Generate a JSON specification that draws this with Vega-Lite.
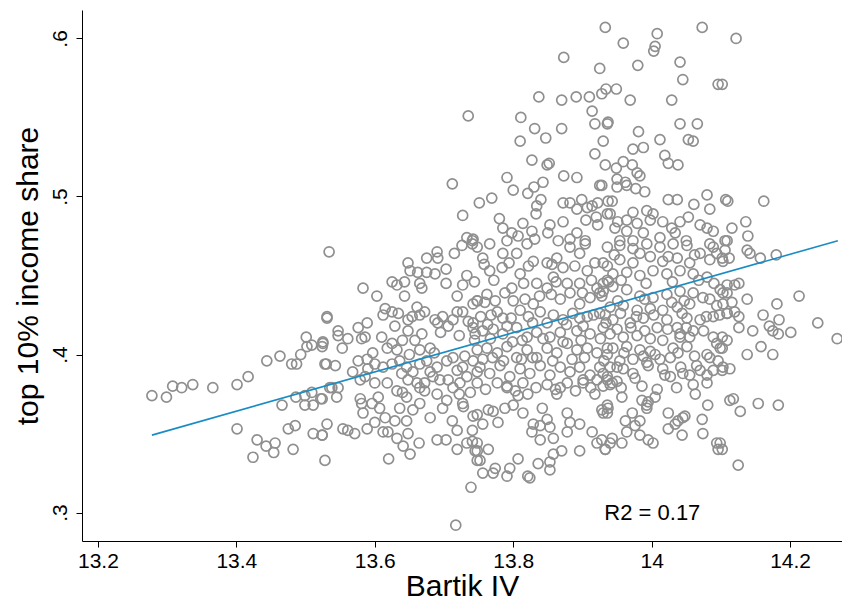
{
"$schema": "https://vega.github.io/schema/vega-lite/v6.json",
"width": 760, "height": 531,
"autosize": {"type": "none"},
"padding": {"left": 82, "top": 10, "right": 0, "bottom": 59},
"background": "white",
"config": {"view": {"stroke": null}, "font": "Liberation Sans",
 "axis": {"grid": false, "domainColor": "black", "tickColor": "black", "labelColor": "black", "titleColor": "black", "labelFont": "Liberation Sans", "titleFont": "Liberation Sans", "titleFontWeight": "normal", "labelFontSize": 21, "titleFontSize": 30, "tickSize": 6, "domainWidth": 1, "tickWidth": 1}},
"layer": [
{"data": {"values": [
{"iv":13.278,"top10":0.374},{"iv":13.299,"top10":0.373},{"iv":13.308,"top10":0.380},{"iv":13.321,"top10":0.379},{"iv":13.337,"top10":0.381},{"iv":13.366,"top10":0.379},{"iv":13.401,"top10":0.381},{"iv":13.417,"top10":0.386},{"iv":13.444,"top10":0.396},{"iv":13.463,"top10":0.399},{"iv":13.480,"top10":0.394},{"iv":13.487,"top10":0.394},{"iv":13.493,"top10":0.400},{"iv":13.501,"top10":0.411},{"iv":13.502,"top10":0.405},{"iv":13.509,"top10":0.406},{"iv":13.524,"top10":0.405},{"iv":13.525,"top10":0.408},{"iv":13.530,"top10":0.394},{"iv":13.531,"top10":0.424},{"iv":13.534,"top10":0.465},{"iv":13.466,"top10":0.368},{"iv":13.486,"top10":0.373},{"iv":13.499,"top10":0.374},{"iv":13.499,"top10":0.368},{"iv":13.509,"top10":0.376},{"iv":13.511,"top10":0.368},{"iv":13.522,"top10":0.372},{"iv":13.535,"top10":0.379},{"iv":13.401,"top10":0.353},{"iv":13.475,"top10":0.353},{"iv":13.485,"top10":0.355},{"iv":13.511,"top10":0.350},{"iv":13.524,"top10":0.349},{"iv":13.531,"top10":0.356},{"iv":13.430,"top10":0.346},{"iv":13.443,"top10":0.342},{"iv":13.456,"top10":0.344},{"iv":13.454,"top10":0.338},{"iv":13.424,"top10":0.335},{"iv":13.482,"top10":0.340},{"iv":13.528,"top10":0.333},
{"iv":13.583,"top10":0.442},{"iv":13.603,"top10":0.437},{"iv":13.643,"top10":0.437},{"iv":13.625,"top10":0.446},{"iv":13.632,"top10":0.444},{"iv":13.643,"top10":0.446},{"iv":13.648,"top10":0.458},{"iv":13.651,"top10":0.453},{"iv":13.662,"top10":0.452},{"iv":13.675,"top10":0.461},{"iv":13.675,"top10":0.452},{"iv":13.687,"top10":0.451},{"iv":13.690,"top10":0.465},{"iv":13.691,"top10":0.461},{"iv":13.703,"top10":0.454},{"iv":13.703,"top10":0.445},{"iv":13.715,"top10":0.464},{"iv":13.726,"top10":0.469},{"iv":13.741,"top10":0.470},{"iv":13.733,"top10":0.450},{"iv":13.727,"top10":0.444},{"iv":13.719,"top10":0.437},{"iv":13.665,"top10":0.445},{"iv":13.668,"top10":0.442},
{"iv":13.531,"top10":0.423},{"iv":13.525,"top10":0.407},{"iv":13.547,"top10":0.415},{"iv":13.547,"top10":0.412},{"iv":13.561,"top10":0.410},{"iv":13.553,"top10":0.404},{"iv":13.576,"top10":0.417},{"iv":13.581,"top10":0.410},{"iv":13.586,"top10":0.411},{"iv":13.589,"top10":0.420},{"iv":13.610,"top10":0.411},{"iv":13.615,"top10":0.429},{"iv":13.612,"top10":0.425},{"iv":13.625,"top10":0.427},{"iv":13.634,"top10":0.426},{"iv":13.629,"top10":0.418},{"iv":13.640,"top10":0.409},{"iv":13.648,"top10":0.422},{"iv":13.648,"top10":0.415},{"iv":13.661,"top10":0.430},{"iv":13.665,"top10":0.425},{"iv":13.672,"top10":0.427},{"iv":13.654,"top10":0.424},{"iv":13.618,"top10":0.404},{"iv":13.625,"top10":0.407},{"iv":13.632,"top10":0.403},{"iv":13.658,"top10":0.409},{"iv":13.665,"top10":0.403},{"iv":13.680,"top10":0.404},{"iv":13.687,"top10":0.422},{"iv":13.691,"top10":0.420},{"iv":13.698,"top10":0.424},{"iv":13.706,"top10":0.418},{"iv":13.713,"top10":0.422},{"iv":13.719,"top10":0.427},{"iv":13.727,"top10":0.427},{"iv":13.735,"top10":0.421},{"iv":13.742,"top10":0.417},{"iv":13.742,"top10":0.432},{"iv":13.748,"top10":0.434},
{"iv":13.528,"top10":0.394},{"iv":13.543,"top10":0.393},{"iv":13.568,"top10":0.389},{"iv":13.576,"top10":0.396},{"iv":13.589,"top10":0.397},{"iv":13.597,"top10":0.401},{"iv":13.600,"top10":0.394},{"iv":13.590,"top10":0.391},{"iv":13.579,"top10":0.384},{"iv":13.586,"top10":0.386},{"iv":13.600,"top10":0.382},{"iv":13.612,"top10":0.392},{"iv":13.625,"top10":0.394},{"iv":13.636,"top10":0.396},{"iv":13.639,"top10":0.388},{"iv":13.646,"top10":0.392},{"iv":13.655,"top10":0.389},{"iv":13.648,"top10":0.384},{"iv":13.665,"top10":0.394},{"iv":13.675,"top10":0.396},{"iv":13.680,"top10":0.389},{"iv":13.690,"top10":0.392},{"iv":13.694,"top10":0.384},{"iv":13.704,"top10":0.396},{"iv":13.713,"top10":0.398},{"iv":13.719,"top10":0.390},{"iv":13.727,"top10":0.392},{"iv":13.733,"top10":0.386},{"iv":13.742,"top10":0.396},{"iv":13.748,"top10":0.389},{"iv":13.706,"top10":0.384},{"iv":13.723,"top10":0.382},{"iv":13.684,"top10":0.386},{"iv":13.672,"top10":0.382},{"iv":13.661,"top10":0.382},
{"iv":13.538,"top10":0.379},{"iv":13.547,"top10":0.379},{"iv":13.545,"top10":0.373},{"iv":13.524,"top10":0.372},{"iv":13.524,"top10":0.349},{"iv":13.554,"top10":0.353},{"iv":13.561,"top10":0.352},{"iv":13.571,"top10":0.350},{"iv":13.579,"top10":0.372},{"iv":13.581,"top10":0.369},{"iv":13.583,"top10":0.363},{"iv":13.589,"top10":0.353},{"iv":13.600,"top10":0.357},{"iv":13.596,"top10":0.369},{"iv":13.605,"top10":0.373},{"iv":13.607,"top10":0.366},{"iv":13.615,"top10":0.360},{"iv":13.612,"top10":0.351},{"iv":13.619,"top10":0.351},{"iv":13.632,"top10":0.347},{"iv":13.641,"top10":0.342},{"iv":13.648,"top10":0.350},{"iv":13.651,"top10":0.337},{"iv":13.620,"top10":0.334},{"iv":13.664,"top10":0.344},{"iv":13.690,"top10":0.346},{"iv":13.703,"top10":0.346},{"iv":13.719,"top10":0.340},{"iv":13.733,"top10":0.344},{"iv":13.741,"top10":0.345},{"iv":13.745,"top10":0.339},{"iv":13.748,"top10":0.333},{"iv":13.739,"top10":0.316},{"iv":13.717,"top10":0.292},{"iv":13.719,"top10":0.352},{"iv":13.712,"top10":0.358},{"iv":13.741,"top10":0.352},{"iv":13.742,"top10":0.361},{"iv":13.727,"top10":0.369},{"iv":13.618,"top10":0.382},{"iv":13.632,"top10":0.377},{"iv":13.646,"top10":0.373},{"iv":13.636,"top10":0.366},{"iv":13.655,"top10":0.365},{"iv":13.665,"top10":0.369},{"iv":13.680,"top10":0.360},{"iv":13.690,"top10":0.375},{"iv":13.704,"top10":0.371},{"iv":13.713,"top10":0.379},{"iv":13.665,"top10":0.379},{"iv":13.629,"top10":0.358},{"iv":13.646,"top10":0.358},
{"iv":13.735,"top10":0.551},{"iv":13.712,"top10":0.508},{"iv":13.751,"top10":0.496},{"iv":13.727,"top10":0.488},{"iv":13.733,"top10":0.474},{"iv":13.741,"top10":0.472},
{"iv":13.933,"top10":0.607},{"iv":13.873,"top10":0.588},{"iv":13.925,"top10":0.581},{"iv":13.837,"top10":0.563},{"iv":13.870,"top10":0.561},{"iv":13.891,"top10":0.563},{"iv":13.910,"top10":0.563},{"iv":13.928,"top10":0.565},{"iv":13.934,"top10":0.568},{"iv":13.914,"top10":0.554},{"iv":13.918,"top10":0.546},{"iv":13.936,"top10":0.546},{"iv":13.811,"top10":0.550},{"iv":13.831,"top10":0.543},{"iv":13.847,"top10":0.537},{"iv":13.870,"top10":0.543},{"iv":13.810,"top10":0.535},{"iv":13.930,"top10":0.535},{"iv":13.918,"top10":0.527},{"iv":13.933,"top10":0.520},{"iv":13.827,"top10":0.523},{"iv":13.849,"top10":0.520},{"iv":13.852,"top10":0.521},{"iv":13.791,"top10":0.512},{"iv":13.800,"top10":0.504},{"iv":13.873,"top10":0.513},{"iv":13.892,"top10":0.512},{"iv":13.925,"top10":0.507},{"iv":13.830,"top10":0.506},{"iv":13.843,"top10":0.509},{"iv":13.821,"top10":0.502},{"iv":13.840,"top10":0.498},{"iv":13.834,"top10":0.494},{"iv":13.833,"top10":0.489},{"iv":13.769,"top10":0.499},{"iv":13.872,"top10":0.496},{"iv":13.882,"top10":0.496},{"iv":13.899,"top10":0.498},{"iv":13.892,"top10":0.492},{"iv":13.907,"top10":0.493},{"iv":13.914,"top10":0.494},{"iv":13.922,"top10":0.496},{"iv":13.937,"top10":0.497},{"iv":13.905,"top10":0.485},{"iv":13.920,"top10":0.487},{"iv":13.922,"top10":0.482},{"iv":13.936,"top10":0.489},{"iv":13.780,"top10":0.486},{"iv":13.785,"top10":0.480},{"iv":13.798,"top10":0.477},{"iv":13.814,"top10":0.483},{"iv":13.807,"top10":0.475},{"iv":13.827,"top10":0.478},{"iv":13.831,"top10":0.473},{"iv":13.853,"top10":0.482},{"iv":13.850,"top10":0.477},{"iv":13.872,"top10":0.484},{"iv":13.865,"top10":0.472},{"iv":13.882,"top10":0.473},{"iv":13.892,"top10":0.477},{"iv":13.904,"top10":0.472},{"iv":13.742,"top10":0.473},{"iv":13.766,"top10":0.470},{"iv":13.791,"top10":0.472},{"iv":13.820,"top10":0.470},
{"iv":13.748,"top10":0.468},{"iv":13.756,"top10":0.461},{"iv":13.766,"top10":0.453},{"iv":13.785,"top10":0.464},{"iv":13.784,"top10":0.455},{"iv":13.805,"top10":0.464},{"iv":13.810,"top10":0.451},{"iv":13.798,"top10":0.442},{"iv":13.817,"top10":0.435},{"iv":13.834,"top10":0.445},{"iv":13.829,"top10":0.459},{"iv":13.849,"top10":0.458},{"iv":13.863,"top10":0.461},{"iv":13.872,"top10":0.455},{"iv":13.882,"top10":0.468},{"iv":13.896,"top10":0.464},{"iv":13.904,"top10":0.470},{"iv":13.907,"top10":0.453},{"iv":13.930,"top10":0.458},{"iv":13.936,"top10":0.447},{"iv":13.921,"top10":0.442},{"iv":13.896,"top10":0.445},{"iv":13.878,"top10":0.445},{"iv":13.858,"top10":0.449},{"iv":13.849,"top10":0.442},{"iv":13.748,"top10":0.434},{"iv":13.759,"top10":0.433},{"iv":13.742,"top10":0.420},{"iv":13.774,"top10":0.434},{"iv":13.777,"top10":0.427},{"iv":13.785,"top10":0.423},{"iv":13.800,"top10":0.434},{"iv":13.810,"top10":0.428},{"iv":13.829,"top10":0.432},{"iv":13.839,"top10":0.427},{"iv":13.849,"top10":0.420},{"iv":13.868,"top10":0.435},{"iv":13.882,"top10":0.439},{"iv":13.896,"top10":0.432},{"iv":13.911,"top10":0.436},{"iv":13.925,"top10":0.439},{"iv":13.886,"top10":0.426},{"iv":13.872,"top10":0.422},{"iv":13.907,"top10":0.424},{"iv":13.925,"top10":0.426},{"iv":13.756,"top10":0.415},{"iv":13.771,"top10":0.416},{"iv":13.785,"top10":0.413},{"iv":13.805,"top10":0.417},{"iv":13.820,"top10":0.411},{"iv":13.834,"top10":0.414},{"iv":13.853,"top10":0.411},{"iv":13.868,"top10":0.414},{"iv":13.892,"top10":0.415},{"iv":13.911,"top10":0.413},{"iv":13.930,"top10":0.417},{"iv":13.748,"top10":0.403},{"iv":13.762,"top10":0.404},{"iv":13.777,"top10":0.401},{"iv":13.791,"top10":0.405},{"iv":13.805,"top10":0.398},{"iv":13.820,"top10":0.403},{"iv":13.834,"top10":0.398},{"iv":13.849,"top10":0.404},{"iv":13.863,"top10":0.401},{"iv":13.878,"top10":0.407},{"iv":13.892,"top10":0.403},{"iv":13.907,"top10":0.404},{"iv":13.921,"top10":0.401},{"iv":13.936,"top10":0.404},{"iv":13.752,"top10":0.392},{"iv":13.766,"top10":0.388},{"iv":13.781,"top10":0.393},{"iv":13.795,"top10":0.386},{"iv":13.810,"top10":0.391},{"iv":13.824,"top10":0.388},{"iv":13.839,"top10":0.393},{"iv":13.853,"top10":0.387},{"iv":13.868,"top10":0.392},{"iv":13.882,"top10":0.389},{"iv":13.896,"top10":0.392},{"iv":13.911,"top10":0.387},{"iv":13.925,"top10":0.392},{"iv":13.748,"top10":0.382},{"iv":13.777,"top10":0.382},{"iv":13.791,"top10":0.379},{"iv":13.814,"top10":0.382},{"iv":13.849,"top10":0.381},{"iv":13.878,"top10":0.382},{"iv":13.901,"top10":0.384},{"iv":13.921,"top10":0.384},{"iv":13.936,"top10":0.386},
{"iv":13.918,"top10":0.375},{"iv":13.878,"top10":0.363},{"iv":13.896,"top10":0.356},{"iv":13.882,"top10":0.357},{"iv":13.878,"top10":0.351},{"iv":13.914,"top10":0.351},{"iv":13.921,"top10":0.344},{"iv":13.933,"top10":0.340},{"iv":13.896,"top10":0.339},{"iv":13.870,"top10":0.339},{"iv":13.858,"top10":0.347},{"iv":13.853,"top10":0.354},{"iv":13.839,"top10":0.346},{"iv":13.839,"top10":0.355},{"iv":13.829,"top10":0.356},{"iv":13.827,"top10":0.351},{"iv":13.858,"top10":0.337},{"iv":13.853,"top10":0.332},{"iv":13.853,"top10":0.327},{"iv":13.836,"top10":0.331},{"iv":13.807,"top10":0.334},{"iv":13.795,"top10":0.328},{"iv":13.791,"top10":0.323},{"iv":13.774,"top10":0.328},{"iv":13.771,"top10":0.325},{"iv":13.756,"top10":0.325},{"iv":13.752,"top10":0.333},{"iv":13.764,"top10":0.340},{"iv":13.748,"top10":0.339},{"iv":13.748,"top10":0.344},{"iv":13.821,"top10":0.323},{"iv":13.824,"top10":0.322},{"iv":13.778,"top10":0.357},{"iv":13.756,"top10":0.356},{"iv":13.748,"top10":0.362},{"iv":13.764,"top10":0.365},{"iv":13.771,"top10":0.364},{"iv":13.788,"top10":0.366},{"iv":13.800,"top10":0.368},{"iv":13.814,"top10":0.363},{"iv":13.821,"top10":0.375},{"iv":13.807,"top10":0.374},{"iv":13.791,"top10":0.380},{"iv":13.842,"top10":0.366},{"iv":13.849,"top10":0.359},{"iv":13.863,"top10":0.375},{"iv":13.868,"top10":0.379},{"iv":13.901,"top10":0.382},{"iv":13.928,"top10":0.365},{"iv":13.936,"top10":0.363},
{"iv":14.008,"top10":0.603},{"iv":14.073,"top10":0.607},{"iv":13.959,"top10":0.597},{"iv":14.005,"top10":0.595},{"iv":14.003,"top10":0.592},{"iv":13.980,"top10":0.583},{"iv":14.041,"top10":0.585},{"iv":14.045,"top10":0.574},{"iv":14.096,"top10":0.571},{"iv":13.949,"top10":0.568},{"iv":13.969,"top10":0.561},{"iv":14.029,"top10":0.561},{"iv":13.937,"top10":0.547},{"iv":13.981,"top10":0.541},{"iv":14.041,"top10":0.546},{"iv":14.066,"top10":0.546},{"iv":14.012,"top10":0.536},{"iv":14.053,"top10":0.536},{"iv":14.060,"top10":0.535},{"iv":13.973,"top10":0.530},{"iv":13.988,"top10":0.531},{"iv":14.019,"top10":0.526},{"iv":14.024,"top10":0.521},{"iv":14.038,"top10":0.520},{"iv":13.949,"top10":0.518},{"iv":13.959,"top10":0.522},{"iv":13.972,"top10":0.520},{"iv":13.979,"top10":0.515},{"iv":13.983,"top10":0.513},{"iv":13.950,"top10":0.511},{"iv":13.962,"top10":0.509},{"iv":13.950,"top10":0.506},{"iv":13.964,"top10":0.507},{"iv":13.977,"top10":0.505},{"iv":13.990,"top10":0.503},{"iv":13.928,"top10":0.507},{"iv":13.943,"top10":0.497},{"iv":14.024,"top10":0.498},{"iv":14.037,"top10":0.498},{"iv":14.080,"top10":0.501},{"iv":14.061,"top10":0.495},{"iv":14.084,"top10":0.492},{"iv":14.107,"top10":0.498},{"iv":13.940,"top10":0.489},{"iv":13.973,"top10":0.490},{"iv":13.993,"top10":0.491},{"iv":14.002,"top10":0.489},{"iv":13.998,"top10":0.485},{"iv":13.979,"top10":0.483},{"iv":13.964,"top10":0.485},{"iv":13.951,"top10":0.484},{"iv":13.947,"top10":0.480},{"iv":13.964,"top10":0.478},{"iv":13.988,"top10":0.477},{"iv":14.016,"top10":0.484},{"iv":14.029,"top10":0.480},{"iv":14.034,"top10":0.477},{"iv":14.041,"top10":0.484},{"iv":14.053,"top10":0.487},{"iv":14.070,"top10":0.482},{"iv":14.080,"top10":0.480},{"iv":14.089,"top10":0.478},{"iv":14.012,"top10":0.474},{"iv":13.973,"top10":0.472},{"iv":13.954,"top10":0.472},{"iv":14.050,"top10":0.472},{"iv":14.084,"top10":0.470},{"iv":14.106,"top10":0.472},
{"iv":13.936,"top10":0.468},{"iv":13.954,"top10":0.469},{"iv":13.973,"top10":0.467},{"iv":13.993,"top10":0.470},{"iv":14.012,"top10":0.468},{"iv":14.031,"top10":0.470},{"iv":14.051,"top10":0.469},{"iv":14.070,"top10":0.464},{"iv":14.089,"top10":0.468},{"iv":14.103,"top10":0.459},{"iv":14.084,"top10":0.460},{"iv":14.055,"top10":0.458},{"iv":14.037,"top10":0.461},{"iv":14.016,"top10":0.459},{"iv":13.998,"top10":0.462},{"iv":13.973,"top10":0.458},{"iv":13.954,"top10":0.460},{"iv":13.936,"top10":0.456},{"iv":13.944,"top10":0.451},{"iv":13.964,"top10":0.452},{"iv":13.983,"top10":0.450},{"iv":14.002,"top10":0.453},{"iv":14.022,"top10":0.451},{"iv":14.041,"top10":0.453},{"iv":14.060,"top10":0.451},{"iv":14.080,"top10":0.449},{"iv":14.099,"top10":0.441},{"iv":14.109,"top10":0.439},{"iv":14.103,"top10":0.432},{"iv":14.094,"top10":0.431},{"iv":14.109,"top10":0.426},{"iv":14.089,"top10":0.424},{"iv":14.070,"top10":0.422},{"iv":14.051,"top10":0.423},{"iv":14.037,"top10":0.417},{"iv":14.060,"top10":0.415},{"iv":14.041,"top10":0.413},{"iv":14.022,"top10":0.422},{"iv":14.016,"top10":0.428},{"iv":14.037,"top10":0.430},{"iv":14.055,"top10":0.432},{"iv":14.074,"top10":0.436},{"iv":14.060,"top10":0.439},{"iv":14.041,"top10":0.440},{"iv":14.022,"top10":0.438},{"iv":14.002,"top10":0.436},{"iv":13.983,"top10":0.437},{"iv":13.964,"top10":0.441},{"iv":13.944,"top10":0.443},{"iv":13.930,"top10":0.440},{"iv":13.940,"top10":0.430},{"iv":13.959,"top10":0.431},{"iv":13.979,"top10":0.428},{"iv":13.998,"top10":0.429},{"iv":13.944,"top10":0.422},{"iv":13.969,"top10":0.420},{"iv":13.988,"top10":0.423},{"iv":14.008,"top10":0.417},{"iv":13.940,"top10":0.413},{"iv":13.959,"top10":0.411},{"iv":13.979,"top10":0.412},{"iv":13.998,"top10":0.410},{"iv":14.016,"top10":0.409},{"iv":14.031,"top10":0.404},{"iv":14.051,"top10":0.405},{"iv":14.041,"top10":0.411},{"iv":14.089,"top10":0.411},{"iv":14.094,"top10":0.407},{"iv":14.099,"top10":0.404},{"iv":14.084,"top10":0.398},{"iv":14.096,"top10":0.396},{"iv":14.103,"top10":0.392},{"iv":14.089,"top10":0.390},{"iv":14.080,"top10":0.387},{"iv":14.070,"top10":0.390},{"iv":14.055,"top10":0.387},{"iv":14.045,"top10":0.388},{"iv":14.019,"top10":0.387},{"iv":14.027,"top10":0.386},{"iv":14.060,"top10":0.381},{"iv":13.944,"top10":0.404},{"iv":13.964,"top10":0.405},{"iv":13.983,"top10":0.403},{"iv":13.998,"top10":0.402},{"iv":14.012,"top10":0.397},{"iv":14.027,"top10":0.398},{"iv":13.954,"top10":0.396},{"iv":13.973,"top10":0.397},{"iv":13.993,"top10":0.395},{"iv":13.940,"top10":0.392},{"iv":13.959,"top10":0.391},{"iv":13.973,"top10":0.388},{"iv":13.976,"top10":0.385},{"iv":13.936,"top10":0.384},{"iv":13.950,"top10":0.383},{"iv":13.940,"top10":0.381},{"iv":13.930,"top10":0.388},{"iv":14.055,"top10":0.411},
{"iv":13.943,"top10":0.382},{"iv":13.930,"top10":0.380},{"iv":13.957,"top10":0.373},{"iv":13.936,"top10":0.368},{"iv":13.930,"top10":0.363},{"iv":13.937,"top10":0.366},{"iv":13.972,"top10":0.363},{"iv":13.962,"top10":0.358},{"iv":13.976,"top10":0.355},{"iv":13.964,"top10":0.351},{"iv":13.983,"top10":0.358},{"iv":13.986,"top10":0.371},{"iv":13.993,"top10":0.368},{"iv":13.995,"top10":0.370},{"iv":14.005,"top10":0.373},{"iv":13.993,"top10":0.366},{"iv":13.983,"top10":0.349},{"iv":13.995,"top10":0.346},{"iv":14.002,"top10":0.344},{"iv":13.957,"top10":0.344},{"iv":13.943,"top10":0.347},{"iv":13.940,"top10":0.344},{"iv":13.933,"top10":0.340},{"iv":13.928,"top10":0.346},{"iv":14.024,"top10":0.363},{"iv":14.024,"top10":0.353},{"iv":14.034,"top10":0.356},{"iv":14.038,"top10":0.358},{"iv":14.045,"top10":0.360},{"iv":14.048,"top10":0.361},{"iv":14.044,"top10":0.349},{"iv":14.063,"top10":0.375},{"iv":14.080,"top10":0.382},{"iv":14.081,"top10":0.368},{"iv":14.073,"top10":0.359},{"iv":14.074,"top10":0.350},{"iv":14.094,"top10":0.344},{"iv":14.096,"top10":0.340},{"iv":14.113,"top10":0.371},
{"iv":14.122,"top10":0.600},{"iv":14.102,"top10":0.571},{"iv":14.110,"top10":0.497},{"iv":14.162,"top10":0.497},{"iv":14.116,"top10":0.480},{"iv":14.136,"top10":0.484},{"iv":14.109,"top10":0.472},{"iv":14.139,"top10":0.475},{"iv":14.106,"top10":0.466},{"iv":14.138,"top10":0.466},{"iv":14.142,"top10":0.464},{"iv":14.112,"top10":0.461},{"iv":14.157,"top10":0.461},{"iv":14.180,"top10":0.463},{"iv":14.102,"top10":0.461},
{"iv":14.109,"top10":0.444},{"iv":14.120,"top10":0.444},{"iv":14.126,"top10":0.445},{"iv":14.103,"top10":0.439},{"iv":14.116,"top10":0.433},{"iv":14.138,"top10":0.435},{"iv":14.181,"top10":0.432},{"iv":14.213,"top10":0.437},{"iv":14.109,"top10":0.426},{"iv":14.120,"top10":0.427},{"iv":14.126,"top10":0.424},{"iv":14.161,"top10":0.425},{"iv":14.184,"top10":0.422},{"iv":14.170,"top10":0.418},{"iv":14.175,"top10":0.415},{"iv":14.183,"top10":0.413},{"iv":14.201,"top10":0.414},{"iv":14.240,"top10":0.420},{"iv":14.268,"top10":0.410},{"iv":14.126,"top10":0.417},{"iv":14.146,"top10":0.415},{"iv":14.102,"top10":0.411},{"iv":14.109,"top10":0.409},{"iv":14.158,"top10":0.405},{"iv":14.138,"top10":0.400},{"iv":14.175,"top10":0.400},{"iv":14.102,"top10":0.404},{"iv":14.113,"top10":0.391},{"iv":14.102,"top10":0.390},{"iv":14.118,"top10":0.372},{"iv":14.128,"top10":0.364},{"iv":14.154,"top10":0.369},{"iv":14.183,"top10":0.368},{"iv":14.099,"top10":0.344},{"iv":14.102,"top10":0.340},{"iv":14.125,"top10":0.330},
{"iv":13.758,"top10":0.457},{"iv":13.794,"top10":0.458},{"iv":13.822,"top10":0.456},{"iv":13.856,"top10":0.457},{"iv":13.889,"top10":0.456},{"iv":13.918,"top10":0.458},
{"iv":13.744,"top10":0.446},{"iv":13.772,"top10":0.447},{"iv":13.815,"top10":0.445},{"iv":13.862,"top10":0.446},{"iv":13.913,"top10":0.447},{"iv":13.930,"top10":0.445},
{"iv":13.762,"top10":0.438},{"iv":13.788,"top10":0.439},{"iv":13.838,"top10":0.437},{"iv":13.855,"top10":0.438},{"iv":13.900,"top10":0.439},{"iv":13.928,"top10":0.437},
{"iv":13.753,"top10":0.424},{"iv":13.768,"top10":0.425},{"iv":13.797,"top10":0.423},{"iv":13.822,"top10":0.424},{"iv":13.858,"top10":0.425},{"iv":13.896,"top10":0.423},{"iv":13.916,"top10":0.425},
{"iv":13.763,"top10":0.419},{"iv":13.791,"top10":0.418},{"iv":13.828,"top10":0.420},{"iv":13.877,"top10":0.419},{"iv":13.901,"top10":0.418},{"iv":13.934,"top10":0.420},
{"iv":13.744,"top10":0.409},{"iv":13.767,"top10":0.410},{"iv":13.799,"top10":0.408},{"iv":13.813,"top10":0.409},{"iv":13.843,"top10":0.410},{"iv":13.872,"top10":0.408},{"iv":13.898,"top10":0.409},{"iv":13.926,"top10":0.410},
{"iv":13.756,"top10":0.397},{"iv":13.770,"top10":0.398},{"iv":13.786,"top10":0.396},{"iv":13.812,"top10":0.397},{"iv":13.828,"top10":0.398},{"iv":13.857,"top10":0.396},{"iv":13.885,"top10":0.397},{"iv":13.903,"top10":0.398},{"iv":13.931,"top10":0.396},
{"iv":13.760,"top10":0.378},{"iv":13.803,"top10":0.377},{"iv":13.833,"top10":0.379},{"iv":13.861,"top10":0.378},{"iv":13.890,"top10":0.377},{"iv":13.912,"top10":0.379},
{"iv":13.946,"top10":0.463},{"iv":13.983,"top10":0.464},{"iv":14.024,"top10":0.462},{"iv":14.062,"top10":0.463},{"iv":14.094,"top10":0.464},
{"iv":13.938,"top10":0.446},{"iv":13.956,"top10":0.447},{"iv":13.992,"top10":0.445},{"iv":14.030,"top10":0.446},{"iv":14.068,"top10":0.447},{"iv":14.090,"top10":0.445},
{"iv":13.951,"top10":0.434},{"iv":13.990,"top10":0.435},{"iv":14.029,"top10":0.433},{"iv":14.047,"top10":0.434},{"iv":14.084,"top10":0.435},
{"iv":13.933,"top10":0.425},{"iv":13.955,"top10":0.426},{"iv":13.978,"top10":0.424},{"iv":14.003,"top10":0.425},{"iv":14.044,"top10":0.426},{"iv":14.079,"top10":0.424},{"iv":14.098,"top10":0.425},
{"iv":13.950,"top10":0.416},{"iv":13.970,"top10":0.417},{"iv":13.990,"top10":0.415},{"iv":14.023,"top10":0.416},{"iv":14.050,"top10":0.417},{"iv":14.075,"top10":0.415},
{"iv":13.936,"top10":0.400},{"iv":13.960,"top10":0.401},{"iv":13.988,"top10":0.399},{"iv":14.005,"top10":0.400},{"iv":14.038,"top10":0.401},{"iv":14.062,"top10":0.399},{"iv":14.080,"top10":0.400},
{"iv":13.950,"top10":0.392},{"iv":13.995,"top10":0.393},{"iv":14.016,"top10":0.391},{"iv":14.042,"top10":0.392},{"iv":14.065,"top10":0.393},
{"iv":13.956,"top10":0.379},{"iv":13.986,"top10":0.380},{"iv":14.008,"top10":0.378},{"iv":14.036,"top10":0.379},
{"iv":13.668,"top10":0.413},{"iv":13.695,"top10":0.414},{"iv":13.722,"top10":0.412},{"iv":13.745,"top10":0.413},
{"iv":13.650,"top10":0.400},{"iv":13.686,"top10":0.401},{"iv":13.730,"top10":0.399},
{"iv":13.640,"top10":0.376},{"iv":13.672,"top10":0.377},{"iv":13.722,"top10":0.375},{"iv":13.738,"top10":0.376},
{"iv":13.698,"top10":0.366},{"iv":13.728,"top10":0.367}
]},
 "mark": {"type": "point", "shape": "circle", "filled": false, "stroke": "#8f8f8f", "strokeWidth": 1.7, "size": 100, "opacity": 1, "clip": true},
 "encoding": {
  "x": {"field": "iv", "type": "quantitative", "scale": {"domain": [13.177, 14.275], "nice": false, "zero": false},
   "axis": {"title": "Bartik IV", "values": [13.2, 13.4, 13.6, 13.8, 14, 14.2], "labelExpr": "toString(datum.value)", "labelPadding": 3, "titlePadding": 0}},
  "y": {"field": "top10", "type": "quantitative", "scale": {"domain": [0.282, 0.618], "nice": false, "zero": false},
   "axis": {"title": "top 10% income share", "values": [0.3, 0.4, 0.5, 0.6], "labelExpr": "replace(format(datum.value, '.1f'), '0.', '.')", "labelAngle": -90, "labelAlign": "center", "labelBaseline": "bottom", "labelPadding": 6, "titlePadding": 6}}
 }},
{"data": {"values": [{"iv": 13.278, "fit": 0.349}, {"iv": 14.269, "fit": 0.472}]},
 "mark": {"type": "line", "color": "#1a8cc4", "strokeWidth": 1.6, "clip": true},
 "encoding": {"x": {"field": "iv", "type": "quantitative"}, "y": {"field": "fit", "type": "quantitative"}}},
{"data": {"values": [{"iv": 14.001, "top10": 0.300, "label": "R2 = 0.17"}]},
 "mark": {"type": "text", "fontSize": 22, "align": "center", "baseline": "middle", "color": "black", "font": "Liberation Sans"},
 "encoding": {"x": {"field": "iv", "type": "quantitative"}, "y": {"field": "top10", "type": "quantitative"}, "text": {"field": "label"}}}
]
}
